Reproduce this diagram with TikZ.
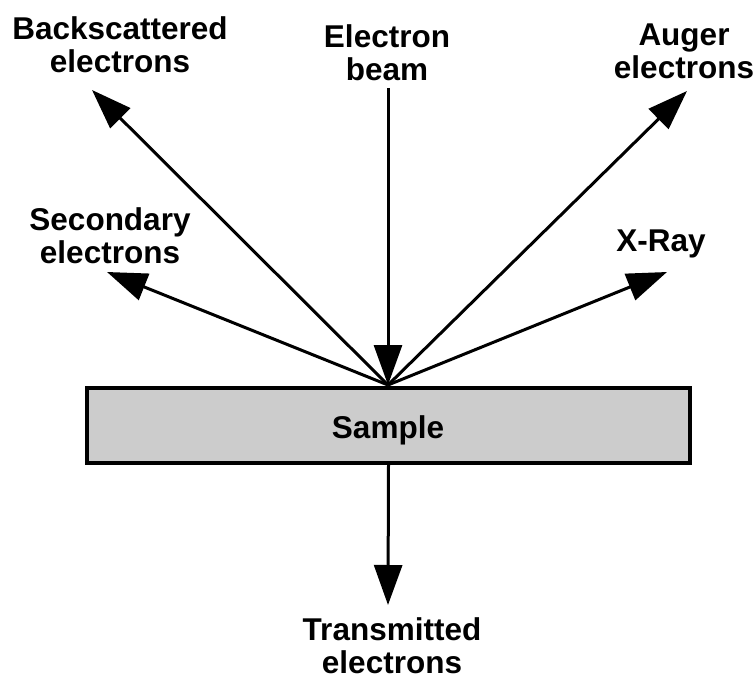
\documentclass[tikz,border=0pt]{standalone}
\usepackage{fontspec}
\setmainfont{Liberation Sans}
\usetikzlibrary{arrows.meta}
\begin{document}
\begin{tikzpicture}[x=1pt,y=-1pt,
  lbl/.style={font=\fontsize{31.5}{33}\selectfont\bfseries, align=center, inner sep=0pt},
  ray/.style={line width=3pt, -{Triangle[length=40pt,width=28pt]}},
  samplebox/.style={draw, line width=4pt, fill=black!20, minimum width=603pt, minimum height=75pt, inner sep=0pt}
]
\useasboundingbox (0,0) rectangle (755,679);

% sample
\node[samplebox] (sample) at (388.5,425.5) {};
\node[lbl, anchor=base] (sampletxt) at (388,438) {Sample};

% key points
\coordinate (O) at (388,385);
\coordinate (beamtop) at (388,88);
\coordinate (tipBS) at (92,90);
\coordinate (tipAU) at (687,91);
\coordinate (tipSE) at (107,272);
\coordinate (tipXR) at (667,272);
\coordinate (tipTR) at (388,605);

% labels
\node[lbl] (bs) at (120,45) {Backscattered\\electrons};
\node[lbl] (beam) at (387,53) {Electron\\beam};
\node[lbl] (au) at (684,51) {Auger\\electrons};
\node[lbl] (se) at (110,236) {Secondary\\electrons};
\node[lbl] (xr) at (661,244) {X-Ray};
\node[lbl] (tr) at (392,646) {Transmitted\\electrons};

% arrows
\draw[ray] (beamtop) -- (O);
\draw[ray] (O) -- (tipBS);
\draw[ray] (O) -- (tipAU);
\draw[ray] (O) -- (tipSE);
\draw[ray] (O) -- (tipXR);
\draw[ray] (sample.south) -- (tipTR);
\end{tikzpicture}
\end{document}
